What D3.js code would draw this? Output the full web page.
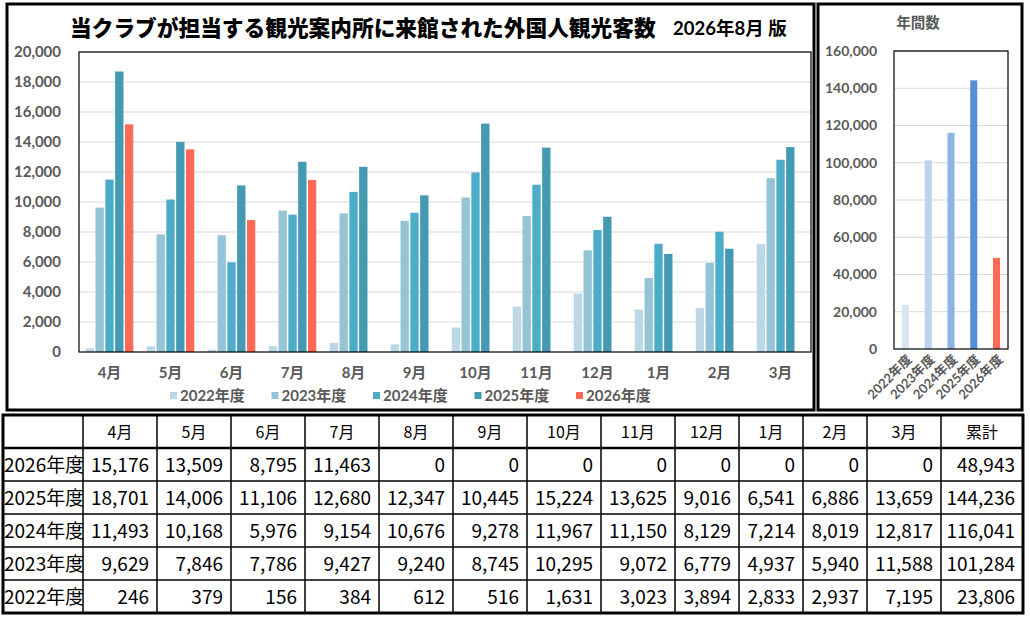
<!DOCTYPE html>
<html>
<head>
<meta charset="utf-8">
<script src="https://cdn.jsdelivr.net/npm/d3@7"></script>
<style>
  body { margin: 0; background: #fff; }
  svg { display: block; }
</style>
</head>
<body>
<svg id="chart" width="1030" height="618"></svg>
<script>
// data read from the sheet
var months = ["4月", "5月", "6月", "7月", "8月", "9月", "10月", "11月", "12月", "1月", "2月", "3月"];
var years = ["2022年度", "2023年度", "2024年度", "2025年度", "2026年度"];
var v2022 = [246, 379, 156, 384, 612, 516, 1631, 3023, 3894, 2833, 2937, 7195];
var v2023 = [9629, 7846, 7786, 9427, 9240, 8745, 10295, 9072, 6779, 4937, 5940, 11588];
var v2024 = [11493, 10168, 5976, 9154, 10676, 9278, 11967, 11150, 8129, 7214, 8019, 12817];
var v2025 = [18701, 14006, 11106, 12680, 12347, 10445, 15224, 13625, 9016, 6541, 6886, 13659];
var v2026 = [15176, 13509, 8795, 11463, 0, 0, 0, 0, 0, 0, 0, 0];
var totals = [23806, 101284, 116041, 144236, 48943];
var yTicksMain = [0, 2000, 4000, 6000, 8000, 10000, 12000, 14000, 16000, 18000, 20000];
var yTicksYear = [0, 20000, 40000, 60000, 80000, 100000, 120000, 140000, 160000];

var series = [v2022, v2023, v2024, v2025, v2026];
var monthColors = ["#bcd8e4", "#94c4d5", "#4badc7", "#439ab2", "#fe6958"];
var yearColors = ["#dae5f4", "#bdd4ee", "#8eb4e2", "#558ed5", "#fe6958"];

var svg = d3.select("#chart");
var fontLat = "Lato, 'Noto Sans CJK JP', sans-serif";
var grey = "#595959";

// ---------- panels ----------
svg.append("rect").attr("x", 7).attr("y", 4).attr("width", 807).attr("height", 406)
  .attr("fill", "none").attr("stroke", "#000").attr("stroke-width", 3);
svg.append("rect").attr("x", 818).attr("y", 4).attr("width", 204).attr("height", 406)
  .attr("fill", "none").attr("stroke", "#000").attr("stroke-width", 3);

// title
svg.append("text").attr("x", 70).attr("y", 36)
  .attr("font-family", "'Noto Sans CJK JP', sans-serif").attr("font-weight", 900)
  .attr("font-size", 21.7).attr("fill", "#000")
  .text("当クラブが担当する観光案内所に来館された外国人観光客数");
svg.append("text").attr("x", 673).attr("y", 35)
  .attr("font-family", fontLat).attr("font-weight", 700)
  .attr("font-size", 18.5).attr("fill", "#000")
  .text("2026年8月 版");

// ---------- monthly chart ----------
var mx0 = d3.scaleBand().domain(months).range([79, 811]).paddingInner(0.22).paddingOuter(0.11);
var mx1 = d3.scaleBand().domain(years).range([0, mx0.bandwidth()]).paddingInner(0.15);
var my = d3.scaleLinear().domain([0, 20000]).range([352, 52]);

var gm = svg.append("g");
gm.selectAll("line.grid").data(yTicksMain.slice(1)).enter().append("line")
  .attr("x1", 79).attr("x2", 811)
  .attr("y1", function(d) { return my(d); }).attr("y2", function(d) { return my(d); })
  .attr("stroke", "#d9d9d9").attr("stroke-width", 1);

var groups = gm.selectAll("g.month").data(months).enter().append("g")
  .attr("transform", function(d) { return "translate(" + mx0(d) + ",0)"; });
groups.selectAll("rect").data(function(m, i) {
    return years.map(function(y, k) { return {year: y, k: k, v: series[k][i]}; });
  }).enter().append("rect")
  .attr("x", function(d) { return mx1(d.year); })
  .attr("y", function(d) { return my(d.v); })
  .attr("width", mx1.bandwidth())
  .attr("height", function(d) { return my(0) - my(d.v); })
  .attr("fill", function(d) { return monthColors[d.k]; });

gm.append("rect").attr("x", 79).attr("y", 52).attr("width", 732).attr("height", 300)
  .attr("fill", "none").attr("stroke", "#000").attr("stroke-width", 1.2);

var yAxM = gm.append("g").attr("transform", "translate(61,0)")
  .call(d3.axisLeft(my).tickValues(yTicksMain).tickFormat(d3.format(",")).tickSize(0));
yAxM.select(".domain").remove();
yAxM.selectAll("text").attr("font-family", fontLat).attr("font-weight", 700)
  .attr("font-size", 15).attr("fill", grey).attr("x", 0);

var xAxM = gm.append("g").attr("transform", "translate(0,352)")
  .call(d3.axisBottom(mx0).tickSize(0).tickPadding(15));
xAxM.select(".domain").remove();
xAxM.selectAll("text").attr("font-family", fontLat).attr("font-weight", 700)
  .attr("font-size", 15).attr("fill", grey);

// legend
var lg = gm.selectAll("g.leg").data(years).enter().append("g")
  .attr("transform", function(d, i) { return "translate(" + (170 + i * 101.5) + ",392)"; });
lg.append("rect").attr("x", 0).attr("y", 0).attr("width", 7).attr("height", 7)
  .attr("fill", function(d, i) { return monthColors[i]; });
lg.append("text").attr("x", 10).attr("y", 9)
  .attr("font-family", fontLat).attr("font-weight", 700)
  .attr("font-size", 15).attr("fill", grey)
  .text(function(d) { return d; });

// ---------- yearly chart ----------
var yx = d3.scaleBand().domain(years).range([894, 1008]).paddingInner(0.69).paddingOuter(0.35);
var yy = d3.scaleLinear().domain([0, 160000]).range([349, 51]);
var gy = svg.append("g");

gy.append("text").attr("x", 918).attr("y", 28).attr("text-anchor", "middle")
  .attr("font-family", fontLat).attr("font-weight", 700)
  .attr("font-size", 14.5).attr("fill", grey).text("年間数");

gy.selectAll("line.grid").data(yTicksYear.slice(1)).enter().append("line")
  .attr("x1", 894).attr("x2", 1008)
  .attr("y1", function(d) { return yy(d); }).attr("y2", function(d) { return yy(d); })
  .attr("stroke", "#d9d9d9").attr("stroke-width", 1);

gy.selectAll("rect.bar").data(years).enter().append("rect")
  .attr("x", function(d) { return yx(d); })
  .attr("y", function(d, i) { return yy(totals[i]); })
  .attr("width", yx.bandwidth())
  .attr("height", function(d, i) { return yy(0) - yy(totals[i]); })
  .attr("fill", function(d, i) { return yearColors[i]; });

gy.append("rect").attr("x", 894).attr("y", 51).attr("width", 114).attr("height", 298)
  .attr("fill", "none").attr("stroke", "#000").attr("stroke-width", 1.2);

var yAxY = gy.append("g").attr("transform", "translate(877,0)")
  .call(d3.axisLeft(yy).tickValues(yTicksYear).tickFormat(d3.format(",")).tickSize(0));
yAxY.select(".domain").remove();
yAxY.selectAll("text").attr("font-family", fontLat).attr("font-weight", 700)
  .attr("font-size", 14).attr("fill", grey).attr("x", 0);

gy.selectAll("text.xl").data(years).enter().append("text")
  .attr("transform", function(d) {
    return "translate(" + (yx(d) + yx.bandwidth() / 2 + 4) + ",357) rotate(-45)";
  })
  .attr("text-anchor", "end").attr("dy", "0.35em")
  .attr("font-family", fontLat).attr("font-weight", 700)
  .attr("font-size", 13).attr("fill", grey)
  .text(function(d) { return d; });

// ---------- table ----------
var colEdges = [3, 83, 157, 231, 305, 379, 453, 527, 601, 675, 739, 803, 867, 941, 1023];
var rowEdges = [415, 448, 481, 514, 547, 580, 613];
var header = [""].concat(months).concat(["累計"]);
var tableRows = [4, 3, 2, 1, 0].map(function(k) {
  return [years[k]].concat(series[k]).concat([totals[k]]);
});
var fmt = d3.format(",");
var tfont = "'Noto Sans CJK JP', sans-serif";
var gt = svg.append("g");

gt.selectAll("text.h").data(header).enter().append("text")
  .attr("x", function(d, i) { return (colEdges[i] + colEdges[i + 1]) / 2; })
  .attr("y", (rowEdges[0] + rowEdges[1]) / 2 + 6)
  .attr("text-anchor", "middle").attr("font-family", tfont)
  .attr("font-size", 16).attr("fill", "#000").text(function(d) { return d; });

var tr = gt.selectAll("g.row").data(tableRows).enter().append("g")
  .attr("transform", function(d, r) { return "translate(0," + ((rowEdges[r + 1] + rowEdges[r + 2]) / 2 + 7) + ")"; });
tr.selectAll("text").data(function(d) { return d; }).enter().append("text")
  .attr("x", function(d, i) { return i === 0 ? colEdges[0] + 1 : colEdges[i + 1] - 8; })
  .attr("text-anchor", function(d, i) { return i === 0 ? "start" : "end"; })
  .attr("font-family", tfont).attr("font-size", 19).attr("fill", "#000")
  .text(function(d, i) { return i === 0 ? d : fmt(d); });

gt.selectAll("line.v").data(colEdges.slice(1, -1)).enter().append("line")
  .attr("x1", function(d) { return d; }).attr("x2", function(d) { return d; })
  .attr("y1", rowEdges[0]).attr("y2", rowEdges[6])
  .attr("stroke", "#000").attr("stroke-width", 1.5);
gt.selectAll("line.hz").data(rowEdges.slice(1, -1)).enter().append("line")
  .attr("x1", colEdges[0]).attr("x2", colEdges[14])
  .attr("y1", function(d) { return d; }).attr("y2", function(d) { return d; })
  .attr("stroke", "#000").attr("stroke-width", function(d, i) { return i === 0 ? 2.5 : 1.5; });
gt.append("rect").attr("x", colEdges[0]).attr("y", rowEdges[0])
  .attr("width", colEdges[14] - colEdges[0]).attr("height", rowEdges[6] - rowEdges[0])
  .attr("fill", "none").attr("stroke", "#000").attr("stroke-width", 3);
</script>
</body>
</html>
